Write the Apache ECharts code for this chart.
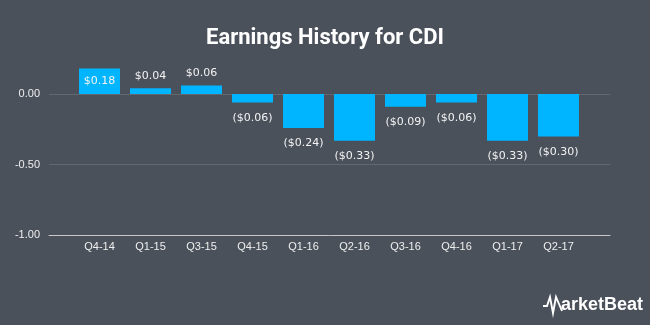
<!DOCTYPE html>
<html>
<head>
<meta charset="utf-8">
<script src="https://cdn.jsdelivr.net/npm/echarts@6/dist/echarts.min.js"></script>
<style>
  html, body { margin: 0; padding: 0; background: #4b515b; }
  #chart { width: 650px; height: 325px; }
</style>
</head>
<body>
<div id="chart"></div>
<script>
// Quarterly EPS for CDI
const quarters = ['Q4-14', 'Q1-15', 'Q3-15', 'Q4-15', 'Q1-16', 'Q2-16', 'Q3-16', 'Q4-16', 'Q1-17', 'Q2-17'];
const eps = [0.18, 0.04, 0.06, -0.06, -0.24, -0.33, -0.09, -0.06, -0.33, -0.30];
const yMin = -1, yMax = 0.2, yStep = 0.5;

const fmtMoney = v => v < 0 ? '($' + Math.abs(v).toFixed(2) + ')' : '$' + v.toFixed(2);

const gridTop = 65.7, gridHeight = 169.7;

// per-bar label placement: above positive bars, below negative ones,
// inside the tallest bar where there is no room above
const barData = eps.map(v => {
  if (v >= 0.15) return { value: v, label: { position: 'inside' } };
  if (v < 0) return { value: v, label: { position: 'bottom', distance: 10 } };
  return { value: v };
});

const chart = echarts.init(document.getElementById('chart'), null, { renderer: 'canvas' });
chart.setOption({
  backgroundColor: '#4b515b',
  animation: false,
  title: {
    text: 'Earnings History for CDI',
    left: 'center',
    top: 22,
    textStyle: { color: '#ffffff', fontSize: 22, fontWeight: 'bold', fontFamily: 'Roboto' }
  },
  grid: [
    { left: 49, right: 40, top: gridTop, height: gridHeight },
    { left: 74, right: 66, top: gridTop, height: gridHeight }
  ],
  xAxis: [
    {
      gridIndex: 0, type: 'value', min: 0, max: 1,
      axisLine: { show: true, onZero: false, lineStyle: { color: '#c8c8c8', width: 1 } },
      axisTick: { show: false }, axisLabel: { show: false }, splitLine: { show: false }
    },
    {
      gridIndex: 1, type: 'category', data: quarters,
      axisLine: { show: false }, axisTick: { show: false },
      axisLabel: { color: '#eeeeee', fontSize: 11, fontFamily: 'Liberation Sans', margin: 6 }
    }
  ],
  yAxis: [
    {
      gridIndex: 0, type: 'value', min: yMin, max: yMax, interval: yStep,
      axisLine: { show: false }, axisTick: { show: false },
      axisLabel: {
        color: '#eeeeee', fontSize: 11, fontFamily: 'Liberation Sans', margin: 9,
        showMaxLabel: false,
        formatter: v => v.toFixed(2)
      },
      splitLine: { show: true, showMaxLine: false, lineStyle: { color: '#626770', width: 1 } }
    },
    {
      gridIndex: 1, type: 'value', min: yMin, max: yMax, interval: yStep, show: false,
      splitLine: { show: false }
    }
  ],
  series: [
    {
      type: 'bar',
      xAxisIndex: 1, yAxisIndex: 1,
      data: barData,
      barWidth: 41,
      itemStyle: { color: '#00b5ff' },
      label: {
        show: true,
        position: 'top',
        distance: 7,
        color: '#f2f2f2',
        fontSize: 11,
        fontFamily: 'DejaVu Sans',
        formatter: p => fmtMoney(p.value)
      }
    }
  ],
  graphic: [
    {
      type: 'polyline',
      shape: { points: [[543, 306], [547, 306], [550, 297], [553, 313], [556, 297], [562, 311]] },
      style: { stroke: '#ffffff', lineWidth: 1.9, fill: null }
    },
    {
      type: 'text',
      left: 561, top: 296,
      style: {
        text: 'arketBeat', fill: '#ffffff',
        fontSize: 18, fontWeight: 'bold', fontFamily: 'Liberation Sans'
      }
    }
  ]
});
</script>
</body>
</html>
